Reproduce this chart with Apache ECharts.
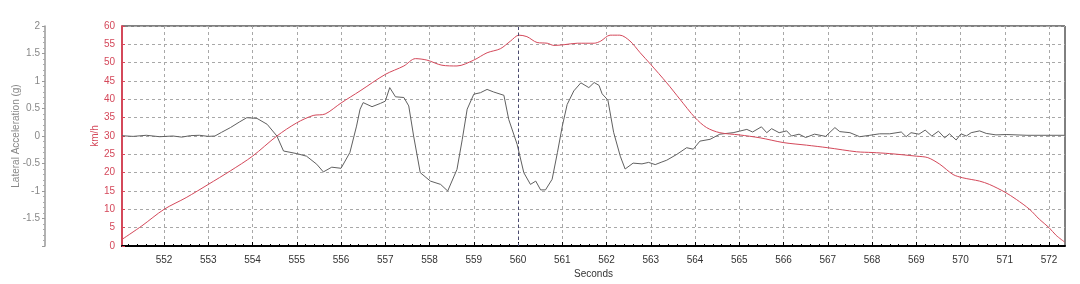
<!DOCTYPE html>
<html>
<head>
<meta charset="utf-8">
<script src="https://cdn.jsdelivr.net/npm/echarts@6/dist/echarts.min.js"></script>
<style>
html,body{margin:0;padding:0;background:#fff;}
#chart{width:1080px;height:284px;}
</style>
</head>
<body>
<div id="chart"></div>
<script>
// ---- data ----
const xTicks = [552,553,554,555,556,557,558,559,560,561,562,563,564,565,566,567,568,569,570,571,572];
const speedTime = [551.05,551.5,552.0,552.5,553.0,553.5,554.0,554.55,555.0,555.37,555.64,556.0,556.43,557.0,557.42,557.68,557.94,558.28,558.62,559.0,559.3,559.6,559.83,560.02,560.2,560.43,560.66,560.81,561.04,561.34,561.72,561.87,562.08,562.3,562.53,562.76,563.0,563.36,563.66,564.0,564.26,564.56,565.0,565.47,566.0,566.52,567.0,567.65,568.0,568.4,569.0,569.26,569.53,569.83,570.05,570.43,570.65,571.0,571.26,571.56,571.78,572.0,572.16,572.35];
const speedKmh = [1.8,5.5,10.0,13.2,16.8,20.5,24.5,30.0,33.6,35.6,36.0,39.0,42.3,46.8,49.1,51.1,50.7,49.3,49.1,50.7,52.7,53.8,55.9,57.5,57.1,55.5,55.3,54.7,54.9,55.3,55.3,55.9,57.5,57.5,55.9,52.7,49.5,44.5,40.0,35.0,32.3,30.9,30.3,29.5,28.2,27.5,26.8,25.7,25.5,25.2,24.5,24.1,22.3,19.5,18.6,17.7,16.8,14.7,12.7,10.0,7.3,5.0,2.9,1.1];
const latTime = [551.05,551.3,551.6,551.9,552.2,552.4,552.6,552.8,553.0,553.15,553.3,553.5,553.7,553.87,554.1,554.33,554.55,554.7,555.0,555.22,555.45,555.6,555.79,556.0,556.2,556.35,556.43,556.5,556.7,556.89,557.0,557.1,557.23,557.42,557.53,557.64,557.79,558.02,558.25,558.41,558.62,558.74,558.85,559.0,559.15,559.3,559.45,559.68,559.79,559.98,560.13,560.28,560.4,560.51,560.62,560.77,560.89,561.0,561.11,561.26,561.42,561.6,561.72,561.83,561.9,562.03,562.16,562.31,562.42,562.6,562.8,562.95,563.1,563.25,563.36,563.59,563.81,563.96,564.11,564.34,564.56,564.86,565.0,565.17,565.3,565.5,565.62,565.73,565.9,566.07,566.18,566.35,566.5,566.7,566.95,567.16,567.27,567.5,567.72,567.95,568.17,568.4,568.66,568.77,568.88,569.06,569.2,569.35,569.5,569.64,569.75,569.9,570.01,570.13,570.24,570.43,570.58,570.8,571.03,571.5,572.0,572.35];
const latG = [0.005,-0.007,0.013,-0.013,0.0,-0.02,0.007,0.013,-0.007,0.0,0.067,0.153,0.253,0.333,0.32,0.213,0.0,-0.273,-0.32,-0.367,-0.513,-0.653,-0.567,-0.587,-0.3,0.18,0.487,0.607,0.533,0.593,0.633,0.88,0.713,0.7,0.547,0.0,-0.667,-0.82,-0.88,-1.0,-0.607,-0.06,0.487,0.76,0.787,0.847,0.8,0.74,0.3,-0.153,-0.667,-0.88,-0.82,-0.98,-0.98,-0.787,-0.3,0.18,0.573,0.82,0.967,0.88,0.973,0.92,0.767,0.653,0.067,-0.367,-0.6,-0.493,-0.507,-0.48,-0.52,-0.473,-0.44,-0.333,-0.213,-0.24,-0.093,-0.06,0.033,0.06,0.087,0.12,0.073,0.167,0.06,0.133,0.06,0.093,0.0,0.033,-0.027,0.033,-0.007,0.153,0.08,0.06,-0.013,0.013,0.04,0.04,0.073,-0.013,0.06,0.033,0.107,0.0,0.087,-0.033,0.04,-0.073,0.04,0.0,0.06,0.093,0.047,0.02,0.027,0.013,0.013,0.013];

const X_MIN = 551.05, X_MAX = 572.36;
const speedData = speedTime.map((t, i) => [t, speedKmh[i]]);
const latData = latTime.map((t, i) => [t, latG[i]]);
const minorTicks = [];
for (let v = 551.2; v < X_MAX; v += 0.2) {
  const r = Math.round(v * 10) / 10;
  if (Math.abs(r - Math.round(r)) > 0.01) minorTicks.push(r);
}

const RED = '#d4485a';
const chart = echarts.init(document.getElementById('chart'), null, {renderer: 'canvas'});
chart.setOption({
  animation: false,
  backgroundColor: '#fff',
  textStyle: {fontFamily: 'Liberation Sans, Arial, sans-serif'},
  grid: {left: 122, right: 15, top: 26, bottom: 38, show: true, borderColor: '#000', borderWidth: 1,
         outerBoundsMode: 'none', containLabel: false},
  xAxis: [{
    type: 'value', min: X_MIN, max: X_MAX,
    axisLine: {onZero: false, lineStyle: {color: '#000', width: 2}},
    axisTick: {show: true, inside: true, length: 4, customValues: xTicks, lineStyle: {color: '#000'}},
    axisLabel: {customValues: xTicks, color: '#333', fontSize: 10, margin: 9},
    splitLine: {show: true, lineStyle: {type: [3, 3], color: '#a8a8a8', width: 1}},
    name: 'Seconds', nameLocation: 'middle', nameGap: 23, nameMoveOverlap: false,
    nameTextStyle: {color: '#333', fontSize: 10}
  }, {
    type: 'value', min: X_MIN, max: X_MAX, position: 'bottom', gridIndex: 0,
    axisLine: {show: false},
    axisTick: {show: true, inside: true, length: 2, customValues: minorTicks, lineStyle: {color: '#000'}},
    axisLabel: {show: false},
    splitLine: {show: false}
  }],
  yAxis: [{
    type: 'value', min: 0, max: 60, interval: 5, position: 'left', offset: 0,
    axisLine: {show: true, onZero: false, lineStyle: {color: RED, width: 2}},
    axisTick: {show: true, inside: true, length: 3, lineStyle: {color: RED}},
    axisLabel: {color: RED, fontSize: 10, margin: 7},
    splitLine: {show: true, lineStyle: {type: [3, 3], color: '#a8a8a8', width: 1}},
    name: 'km/h', nameLocation: 'middle', nameGap: 22, nameRotate: 90, nameMoveOverlap: false,
    nameTextStyle: {color: RED, fontSize: 10}
  }, {
    type: 'value', min: -2, max: 2, interval: 0.5, position: 'left', offset: 77,
    axisLine: {show: true, onZero: false, lineStyle: {color: '#999', width: 1.5}},
    axisTick: {show: true, length: 3, lineStyle: {color: '#999'}},
    minorTick: {show: true, splitNumber: 5, length: 2, lineStyle: {color: '#aaa'}},
    axisLabel: {color: '#888', fontSize: 10, margin: 5,
      formatter: v => (v === -2 ? '' : String(v))},
    splitLine: {show: false},
    name: 'Lateral Acceleration (g)', nameLocation: 'middle', nameGap: 24, nameRotate: 90, nameMoveOverlap: false,
    nameTextStyle: {color: '#888', fontSize: 10}
  }],
  series: [{
    name: 'Lateral Acceleration', type: 'line', yAxisIndex: 1, data: latData,
    showSymbol: false, lineStyle: {color: '#606060', width: 1}, z: 3,
    markLine: {silent: true, symbol: 'none', label: {show: false},
      lineStyle: {color: '#4a4a70', type: [3, 3], width: 1},
      data: [{xAxis: 560}]}
  }, {
    name: 'Speed', type: 'line', yAxisIndex: 0, data: speedData,
    showSymbol: false, smooth: 0.3, lineStyle: {color: RED, width: 1}, z: 4
  }]
});
</script>
</body>
</html>
